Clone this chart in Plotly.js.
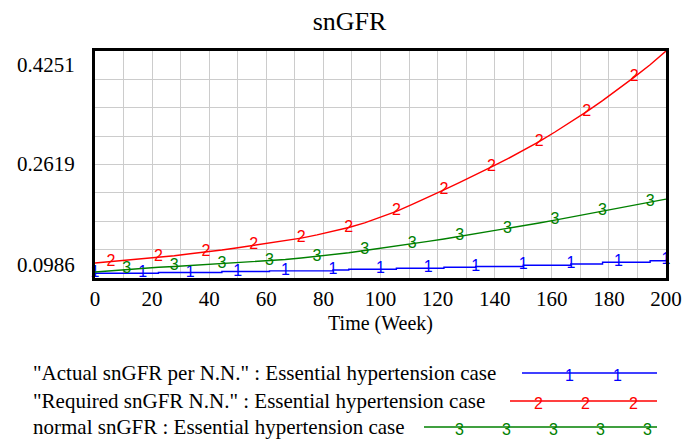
<!DOCTYPE html>
<html>
<head>
<meta charset="utf-8">
<script src="https://cdn.plot.ly/plotly-3.0.1.min.js"></script>
<style>html,body{margin:0;padding:0;background:#fff;}#chart{width:699px;height:441px;}</style>
</head>
<body>
<div id="chart"></div>
<script>
// ---- data ----
const times = [0, 5.56, 11.11, 16.67, 22.22, 27.78, 33.33, 38.89, 44.44, 50, 55.56, 61.11, 66.67, 72.22, 77.78, 83.33, 88.89, 94.44, 100, 105.56, 111.11, 116.67, 122.22, 127.78, 133.33, 138.89, 144.44, 150, 155.56, 161.11, 166.67, 172.22, 177.78, 183.33, 188.89, 194.44, 200];
const actualSnGFR = [0.1055, 0.1055, 0.1055, 0.1055, 0.1065, 0.1065, 0.1065, 0.1065, 0.1079, 0.1079, 0.1079, 0.1088, 0.1088, 0.1088, 0.1088, 0.1102, 0.1112, 0.1112, 0.1112, 0.1127, 0.1127, 0.1127, 0.1141, 0.1141, 0.1151, 0.1151, 0.1151, 0.1170, 0.1170, 0.1170, 0.1188, 0.1188, 0.1213, 0.1213, 0.1213, 0.1234, 0.1249];
const requiredSnGFR = [0.1201, 0.1220, 0.1239, 0.1259, 0.1285, 0.1306, 0.1335, 0.1359, 0.1388, 0.1421, 0.1454, 0.1488, 0.1521, 0.1560, 0.1607, 0.1658, 0.1712, 0.1780, 0.1859, 0.1945, 0.2045, 0.2146, 0.2253, 0.2361, 0.2469, 0.2583, 0.2698, 0.2820, 0.2949, 0.3086, 0.3229, 0.3380, 0.3538, 0.3703, 0.3875, 0.4054, 0.4251];
const normalSnGFR = [0.1072, 0.1091, 0.1112, 0.1127, 0.1140, 0.1152, 0.1165, 0.1177, 0.1191, 0.1206, 0.1220, 0.1234, 0.1252, 0.1273, 0.1295, 0.1320, 0.1349, 0.1382, 0.1412, 0.1445, 0.1478, 0.1513, 0.1547, 0.1584, 0.1622, 0.1659, 0.1698, 0.1737, 0.1777, 0.1818, 0.1860, 0.1903, 0.1948, 0.1992, 0.2035, 0.2078, 0.2121];
const seriesNames = ['"Actual snGFR per N.N." : Essential hypertension case', '"Required snGFR N.N." : Essential hypertension case', 'normal snGFR : Essential hypertension case'];
const seriesDigits = ['1', '2', '3'];
const xTickVals = [0, 20, 40, 60, 80, 100, 120, 140, 160, 180, 200];
const xTickLabels = ['0', '20', '40', '60', '80', '100', '120', '140', '160', '180', '200'];
const yTickVals = [0.0986, 0.2619, 0.4251];
const yTickLabels = ['0.0986', '0.2619', '0.4251'];
const chartTitle = 'snGFR';
const xTitle = 'Time (Week)';

// ---- styles ----
const colors = ['#0000ff', '#ff0000', '#008000'];
const serif = 'Liberation Serif, Times New Roman, serif';
const sans = 'Liberation Sans, Arial, sans-serif';
const W = 699, H = 441;
const M = {l: 95, r: 33, t: 51, b: 163};
const PW = W - M.l - M.r, PH = H - M.t - M.b;
const px2x = p => (p - M.l) / PW;
const py2y = p => (H - M.b - p) / PH;
const markerOffset = [0, 1, 2];   // index offset of the digit labels on each line
const markerEvery = 3;

const series = [actualSnGFR, requiredSnGFR, normalSnGFR];
const traces = [];
series.forEach((vals, s) => {
  traces.push({
    x: times, y: vals, type: 'scatter', mode: 'lines',
    line: {color: colors[s], width: 1.4, shape: s === 0 ? 'hv' : 'linear'},
    hoverinfo: 'skip', showlegend: false
  });
  const mx = [], my = [], mt = [];
  for (let i = markerOffset[s]; i < times.length; i += markerEvery) {
    mx.push(times[i]); my.push(vals[i]); mt.push(seriesDigits[s]);
  }
  traces.push({
    x: mx, y: my, text: mt, type: 'scatter', mode: 'text',
    textposition: 'middle center', cliponaxis: false,
    textfont: {family: sans, size: 16, color: colors[s]},
    hoverinfo: 'skip', showlegend: false
  });
});

// x grid every 10, labels every 20
const xGridVals = [], xGridText = [];
for (let v = 0; v <= 200; v += 10) {
  xGridVals.push(v);
  const k = xTickVals.indexOf(v);
  xGridText.push(k >= 0 ? xTickLabels[k] : '');
}

const annotations = [];
const yShift = [13, 0, -14];
yTickVals.forEach((v, i) => {
  annotations.push({
    xref: 'paper', yref: 'y', x: 0, y: v, xanchor: 'right', yanchor: 'middle',
    xshift: -18, yshift: yShift[i], showarrow: false,
    text: yTickLabels[i], font: {family: serif, size: 21, color: '#000'}
  });
});

// legend (Vensim style)
const legY = [373, 401, 427];
const legLineStart = [522, 510, 424];
const legLineEnd = 657;
const legDigitX = [[569, 617], [538, 585, 633], [459, 506, 553, 600, 647]];
const shapes = [];
seriesNames.forEach((name, s) => {
  annotations.push({
    xref: 'paper', yref: 'paper', x: px2x(31), y: py2y(legY[s]),
    xanchor: 'left', yanchor: 'middle', showarrow: false,
    text: name, font: {family: serif, size: 21, color: '#000'}
  });
  shapes.push({
    type: 'line', xref: 'paper', yref: 'paper',
    x0: px2x(legLineStart[s]), x1: px2x(legLineEnd),
    y0: py2y(legY[s]), y1: py2y(legY[s]),
    line: {color: colors[s], width: 1.4}
  });
  legDigitX[s].forEach(dx => {
    annotations.push({
      xref: 'paper', yref: 'paper', x: px2x(dx), y: py2y(legY[s] + 2),
      xanchor: 'center', yanchor: 'middle', showarrow: false,
      text: seriesDigits[s], font: {family: sans, size: 16, color: colors[s]}
    });
  });
});

const yMin = yTickVals[0], yMax = yTickVals[2];
const layout = {
  width: W, height: H,
  margin: M,
  paper_bgcolor: '#fff', plot_bgcolor: '#fff',
  showlegend: false,
  title: {text: chartTitle, font: {family: serif, size: 26, color: '#000'},
          x: 0.5, xref: 'container', y: 1 - 21 / H, yref: 'container', yanchor: 'middle'},
  xaxis: {
    range: [0, 200], tickmode: 'array', tickvals: xGridVals, ticktext: xGridText,
    showgrid: true, gridcolor: '#cccccc', gridwidth: 1,
    showline: true, linecolor: '#000', linewidth: 3, mirror: true,
    ticks: '', zeroline: false, automargin: false,
    tickfont: {family: serif, size: 21, color: '#000'},
    title: {text: xTitle, font: {family: serif, size: 20, color: '#000'}, standoff: 6}
  },
  yaxis: {
    range: [yMin, yMax], tickmode: 'linear', tick0: yMin, dtick: (yMax - yMin) / 8,
    showgrid: true, gridcolor: '#cccccc', gridwidth: 1,
    showline: true, linecolor: '#000', linewidth: 3, mirror: true,
    showticklabels: false, ticks: '', zeroline: false, automargin: false
  },
  annotations: annotations,
  shapes: shapes
};

Plotly.newPlot('chart', traces, layout, {displayModeBar: false, staticPlot: true});
</script>
</body>
</html>
